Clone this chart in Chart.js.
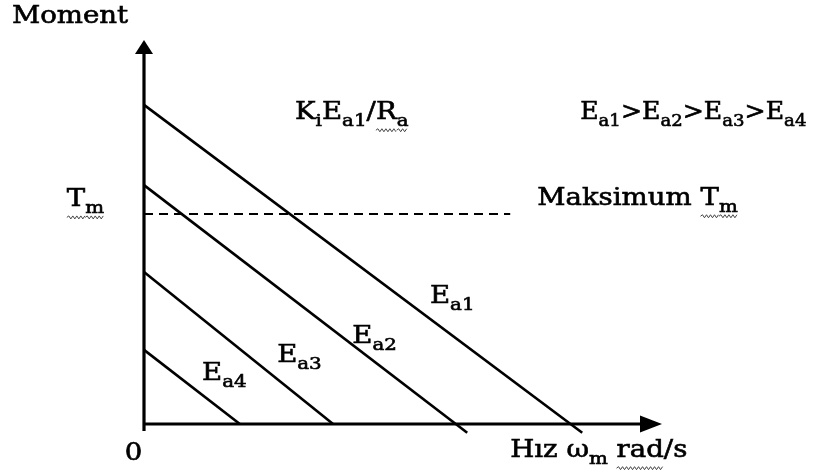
<!DOCTYPE html>
<html>
<head>
<meta charset="utf-8">
<script src="https://cdn.jsdelivr.net/npm/chart.js@4"></script>
<style>
  html, body { margin: 0; padding: 0; background: #fff; }
  #wrap { width: 815px; height: 476px; }
</style>
</head>
<body>
<div id="wrap"><canvas id="c" width="815" height="476"></canvas></div>
<script>
// Torque–speed lines of a separately excited DC motor for four armature voltages
const seriesNames = ['Ea1', 'Ea2', 'Ea3', 'Ea4'];
const speedEa1 = [0, 8.46];
const torqueEa1 = [8.31, -0.23];
const speedEa2 = [0, 6.24];
const torqueEa2 = [6.22, -0.23];
const speedEa3 = [0, 3.65];
const torqueEa3 = [3.96, 0];
const speedEa4 = [0, 1.85];
const torqueEa4 = [1.93, 0];
// maximum allowed torque Tm
const maxTorque = 5.47;
const maxTorqueSpeedRange = [0, 7.07];
// axis extents
const speedMax = 10;
const torqueMax = 10;

const speeds = [speedEa1, speedEa2, speedEa3, speedEa4];
const torques = [torqueEa1, torqueEa2, torqueEa3, torqueEa4];

const FONT = '"DejaVu Serif", "Liberation Serif", serif';
const TEXT_SIZE = 24;
const SUB_RATIO = 0.72;
const STRETCH = 1.15;

function toPoints(xs, ys) {
  return xs.map((x, i) => ({ x: x, y: ys[i] }));
}

const datasets = seriesNames.map((name, i) => ({
  label: name,
  data: toPoints(speeds[i], torques[i]),
  showLine: true,
  borderColor: '#000',
  borderWidth: 2.6,
  pointRadius: 0,
  clip: false
}));
datasets.push({
  label: 'Tm',
  data: toPoints(maxTorqueSpeedRange, [maxTorque, maxTorque]),
  showLine: true,
  borderColor: '#000',
  borderWidth: 2,
  borderDash: [9, 6],
  pointRadius: 0,
  clip: false
});

// small zigzag underline (proof-reading mark) between two x positions
function zigzag(ctx, xa, xb, y) {
  ctx.save();
  ctx.lineWidth = 1;
  ctx.strokeStyle = '#444';
  ctx.beginPath();
  let up = true;
  ctx.moveTo(xa, y);
  for (let x = xa + 2; x <= xb; x += 2) {
    ctx.lineTo(x, up ? y - 1.5 : y + 1.5);
    up = !up;
  }
  ctx.stroke();
  ctx.restore();
}

// parts: [text, isSubscript, wavy]
function drawRich(ctx, parts, x, y, stretch) {
  ctx.save();
  ctx.translate(x, y);
  ctx.scale(stretch, 1);
  ctx.lineWidth = 0.6;
  ctx.strokeStyle = '#000';
  let cx = 0;
  const marks = [];
  parts.forEach(([t, sub, wavy]) => {
    const s = sub ? TEXT_SIZE * SUB_RATIO : TEXT_SIZE;
    const dy = sub ? TEXT_SIZE * 0.36 : 0;
    ctx.font = s + 'px ' + FONT;
    ctx.fillText(t, cx, dy);
    ctx.strokeText(t, cx, dy);
    const w = ctx.measureText(t).width;
    if (wavy) marks.push([cx, cx + w]);
    cx += w;
  });
  ctx.restore();
  marks.forEach(([a, b]) => zigzag(ctx, x + a * stretch, x + b * stretch, y + TEXT_SIZE * 0.72));
}

// labels placed in (speed, torque) units
const labels = [
  { at: [-2.55, 10.6], parts: [['Moment']] },
  { at: [2.915, 8.1], parts: [['K'], ['i', true], ['E'], ['a1', true], ['/'], ['R', false, true], ['a', true, true]] },
  { at: [8.42, 8.1], stretch: 1.05, parts: [['E'], ['a1', true], ['>E'], ['a2', true], ['>E'], ['a3', true], ['>E'], ['a4', true]] },
  { at: [-1.49, 5.83], parts: [['T', false, true], ['m', true, true]] },
  { at: [7.59, 5.86], parts: [['Maksimum '], ['T', false, true], ['m', true, true]] },
  { at: [5.52, 3.31], parts: [['E'], ['a1', true]] },
  { at: [4.02, 2.27], parts: [['E'], ['a2', true]] },
  { at: [2.57, 1.77], parts: [['E'], ['a3', true]] },
  { at: [1.12, 1.30], parts: [['E'], ['a4', true]] },
  { at: [-0.37, -0.78], parts: [['0']] },
  { at: [7.07, -0.70], parts: [['Hız ω'], ['m', true], [' '], ['rad', false, true], ['/s']] }
];

const axesPlugin = {
  id: 'axesAndText',
  afterDatasetsDraw(chart) {
    const ctx = chart.ctx;
    const xs = chart.scales.x, ys = chart.scales.y;
    const x0 = xs.getPixelForValue(0), y0 = ys.getPixelForValue(0);
    const xEnd = xs.getPixelForValue(speedMax), yEnd = ys.getPixelForValue(torqueMax);
    ctx.save();
    ctx.strokeStyle = '#000';
    ctx.fillStyle = '#000';
    ctx.lineWidth = 3.2;
    ctx.beginPath();
    ctx.moveTo(x0, y0 + 7);
    ctx.lineTo(x0, yEnd + 10);
    ctx.moveTo(x0 - 1, y0);
    ctx.lineTo(xEnd - 10, y0);
    ctx.stroke();
    // arrow heads
    ctx.beginPath();
    ctx.moveTo(x0, yEnd);
    ctx.lineTo(x0 - 9, yEnd + 14);
    ctx.lineTo(x0 + 9, yEnd + 14);
    ctx.closePath();
    ctx.fill();
    ctx.beginPath();
    ctx.moveTo(xEnd, y0);
    ctx.lineTo(xEnd - 22, y0 - 8.5);
    ctx.lineTo(xEnd - 22, y0 + 8.5);
    ctx.closePath();
    ctx.fill();

    ctx.textBaseline = 'middle';
    ctx.textAlign = 'left';
    labels.forEach(l => {
      drawRich(ctx, l.parts, xs.getPixelForValue(l.at[0]), ys.getPixelForValue(l.at[1]), l.stretch || STRETCH);
    });
    ctx.restore();
  }
};

new Chart(document.getElementById('c'), {
  type: 'scatter',
  data: { datasets: datasets },
  options: {
    responsive: false,
    animation: false,
    events: [],
    layout: { padding: { left: 144, right: 153, top: 40, bottom: 52 } },
    plugins: { legend: { display: false }, tooltip: { enabled: false } },
    scales: {
      x: { type: 'linear', min: 0, max: speedMax, display: false },
      y: { type: 'linear', min: 0, max: torqueMax, display: false }
    }
  },
  plugins: [axesPlugin]
});
</script>
</body>
</html>
